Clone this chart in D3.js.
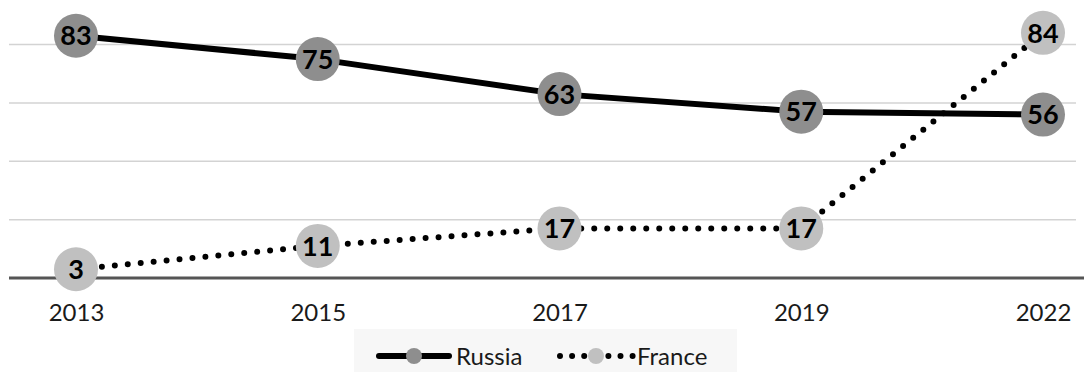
<!DOCTYPE html>
<html>
<head>
<meta charset="utf-8">
<script src="https://cdn.jsdelivr.net/npm/d3@7/dist/d3.min.js"></script>
<style>
  html, body { margin: 0; padding: 0; background: #fff; }
  svg { display: block; }
</style>
</head>
<body>
<svg id="chart" width="1084" height="372"></svg>
<script>
// Survey years and the two country series
const years = ["2013", "2015", "2017", "2019", "2022"];
const russia = [83, 75, 63, 57, 56];
const france = [3, 11, 17, 17, 84];
const gridTicks = [20, 40, 60, 80];

const W = 1084, H = 372;
const svg = d3.select("#chart");
const font = "Lato, 'Open Sans', sans-serif";

const x = d3.scalePoint().domain(years).range([76, 1043]);
const y = d3.scaleLinear().domain([0, 80]).range([278, 44.5]);

// Horizontal gridlines
svg.append("g")
  .selectAll("line")
  .data(gridTicks)
  .join("line")
  .attr("x1", 9).attr("x2", 1076)
  .attr("y1", d => y(d)).attr("y2", d => y(d))
  .attr("stroke", "#d3d3d3")
  .attr("stroke-width", 1.5);

// Category axis along the zero line
const xAxis = svg.append("g")
  .attr("transform", `translate(0,${y(0)})`)
  .call(d3.axisBottom(x).tickSize(0).tickPadding(26));
xAxis.select(".domain").remove();
xAxis.append("line")
  .attr("x1", 9).attr("x2", W)
  .attr("stroke", "#555").attr("stroke-width", 3);
xAxis.selectAll("text")
  .attr("font-family", font)
  .attr("font-size", 24)
  .attr("fill", "#1a1a1a");

const line = d3.line()
  .x((d, i) => x(years[i]))
  .y(d => y(d));

const series = [
  { name: "Russia", values: russia, fill: "#8e8e8e", dash: null },
  { name: "France", values: france, fill: "#c0c0c0", dash: "0 13" }
];

series.forEach(s => {
  svg.append("path")
    .datum(s.values)
    .attr("d", line)
    .attr("fill", "none")
    .attr("stroke", "#000")
    .attr("stroke-width", 6)
    .attr("stroke-linecap", "round")
    .attr("stroke-linejoin", "round")
    .attr("stroke-dasharray", s.dash);
});

series.forEach(s => {
  const g = svg.append("g");
  g.selectAll("circle")
    .data(s.values)
    .join("circle")
    .attr("cx", (d, i) => x(years[i]))
    .attr("cy", d => y(d))
    .attr("r", 22)
    .attr("fill", s.fill);
  g.selectAll("text")
    .data(s.values)
    .join("text")
    .attr("x", (d, i) => x(years[i]))
    .attr("y", d => y(d))
    .attr("dy", "0.36em")
    .attr("text-anchor", "middle")
    .attr("font-family", font)
    .attr("font-weight", "bold")
    .attr("font-size", 27)
    .attr("fill", "#000")
    .text(d => d);
});

// Legend
const legend = svg.append("g");
legend.append("rect")
  .attr("x", 354).attr("y", 329)
  .attr("width", 383).attr("height", 43)
  .attr("fill", "#f7f7f7");

const ly = 356;
// Russia entry
legend.append("line")
  .attr("x1", 379).attr("x2", 449)
  .attr("y1", ly).attr("y2", ly)
  .attr("stroke", "#000").attr("stroke-width", 6)
  .attr("stroke-linecap", "round");
legend.append("circle")
  .attr("cx", 414).attr("cy", ly).attr("r", 8)
  .attr("fill", series[0].fill);
legend.append("text")
  .attr("x", 456).attr("y", ly).attr("dy", "0.36em")
  .attr("font-family", font).attr("font-size", 24)
  .attr("fill", "#1a1a1a").text("Russia");

// France entry
legend.append("line")
  .attr("x1", 560).attr("x2", 633)
  .attr("y1", ly).attr("y2", ly)
  .attr("stroke", "#000").attr("stroke-width", 6)
  .attr("stroke-linecap", "round")
  .attr("stroke-dasharray", "0 12.1");
legend.append("circle")
  .attr("cx", 596).attr("cy", ly).attr("r", 8)
  .attr("fill", series[1].fill);
legend.append("text")
  .attr("x", 637).attr("y", ly).attr("dy", "0.36em")
  .attr("font-family", font).attr("font-size", 24)
  .attr("fill", "#1a1a1a").text("France");
</script>
</body>
</html>
